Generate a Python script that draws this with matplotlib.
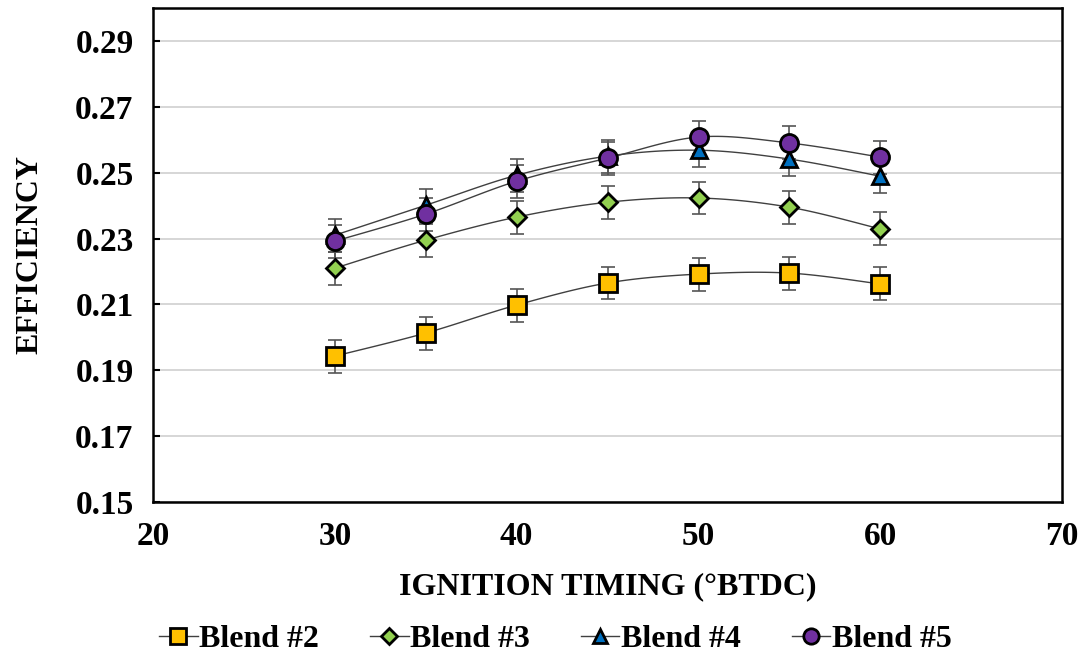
import numpy as np
import matplotlib
matplotlib.use('Agg')
import matplotlib.pyplot as plt

plt.rcParams['font.family'] = ['Liberation Serif', 'DejaVu Serif']
plt.rcParams['font.weight'] = 'bold'

timing = [30, 35, 40, 45, 50, 55, 60]
blend2 = [0.1943, 0.2013, 0.2098, 0.2165, 0.2192, 0.2195, 0.2162]
blend3 = [0.2210, 0.2295, 0.2365, 0.2410, 0.2423, 0.2395, 0.2329]
blend4 = [0.2310, 0.2401, 0.2492, 0.2550, 0.2568, 0.2541, 0.2489]
blend5 = [0.2292, 0.2374, 0.2474, 0.2544, 0.2608, 0.2590, 0.2547]
err = 0.005

names = ['Blend #2', 'Blend #3', 'Blend #4', 'Blend #5']
colors = ['#FFC000', '#92D050', '#0070C0', '#7030A0']
markers = ['s', 'D', '^', 'o']
msizes = [13, 9, 12, 13]


def smooth(x, y, n=20):
    # Excel-style smoothed line (Catmull-Rom through the points)
    x = np.asarray(x, float)
    y = np.asarray(y, float)
    px = np.concatenate([[x[0]], x, [x[-1]]])
    py = np.concatenate([[y[0]], y, [y[-1]]])
    xs, ys = [], []
    t = np.linspace(0, 1, n)
    for i in range(1, len(px) - 2):
        p0, p1, p2, p3 = (np.array([px[j], py[j]]) for j in range(i - 1, i + 3))
        b1 = p1 + (p2 - p0) / 6
        b2 = p2 - (p3 - p1) / 6
        pts = ((1 - t) ** 3)[:, None] * p1 + (3 * (1 - t) ** 2 * t)[:, None] * b1 \
            + (3 * (1 - t) * t ** 2)[:, None] * b2 + (t ** 3)[:, None] * p2
        xs.extend(pts[:, 0])
        ys.extend(pts[:, 1])
    return xs, ys


fig, ax = plt.subplots(figsize=(10.85, 6.58), dpi=100)
fig.subplots_adjust(left=0.141, right=0.979, top=0.988, bottom=0.237)

for vals, name, c, m, ms in zip([blend2, blend3, blend4, blend5], names, colors, markers, msizes):
    sx, sy = smooth(timing, vals)
    ax.plot(sx, sy, color='#404040', lw=1.0, zorder=2)
    ax.errorbar(timing, vals, yerr=err, fmt='none', ecolor='#555555', elinewidth=1.2,
                capsize=5, capthick=1.2, zorder=3)
    ax.plot(timing, vals, linestyle='none', marker=m, markersize=ms, markerfacecolor=c,
            markeredgecolor='black', markeredgewidth=2, zorder=4)
    ax.plot([], [], color='#404040', lw=1.0, marker=m, markersize=ms * 0.85,
            markerfacecolor=c, markeredgecolor='black', markeredgewidth=2, label=name)

ax.set_xlim(20, 70)
ax.set_ylim(0.15, 0.30)
ax.set_xticks(range(20, 71, 10))
ax.set_yticks(np.arange(0.15, 0.30, 0.02))
ax.set_yticklabels([f'{v:.2f}' for v in np.arange(0.15, 0.30, 0.02)])
ax.yaxis.grid(True, color='#d0d0d0', lw=1.2)
ax.set_axisbelow(True)
ax.tick_params(axis='both', labelsize=24, width=1.5)
ax.tick_params(axis='y', direction='in', length=5, pad=14)
ax.tick_params(axis='x', direction='out', length=0, pad=14)
for s in ax.spines.values():
    s.set_linewidth(1.8)

ax.set_xlabel('IGNITION TIMING (°BTDC)', fontsize=23, fontweight='bold', labelpad=14)
ax.set_ylabel('EFFICIENCY', fontsize=23, fontweight='bold', labelpad=22)

fig.legend(*ax.get_legend_handles_labels(), loc='center', bbox_to_anchor=(0.512, 0.028),
           ncol=4, frameon=False, fontsize=23, handlelength=1.2, handletextpad=0.05,
           columnspacing=1.6, borderpad=0)

plt.savefig('out.png', dpi=100)
